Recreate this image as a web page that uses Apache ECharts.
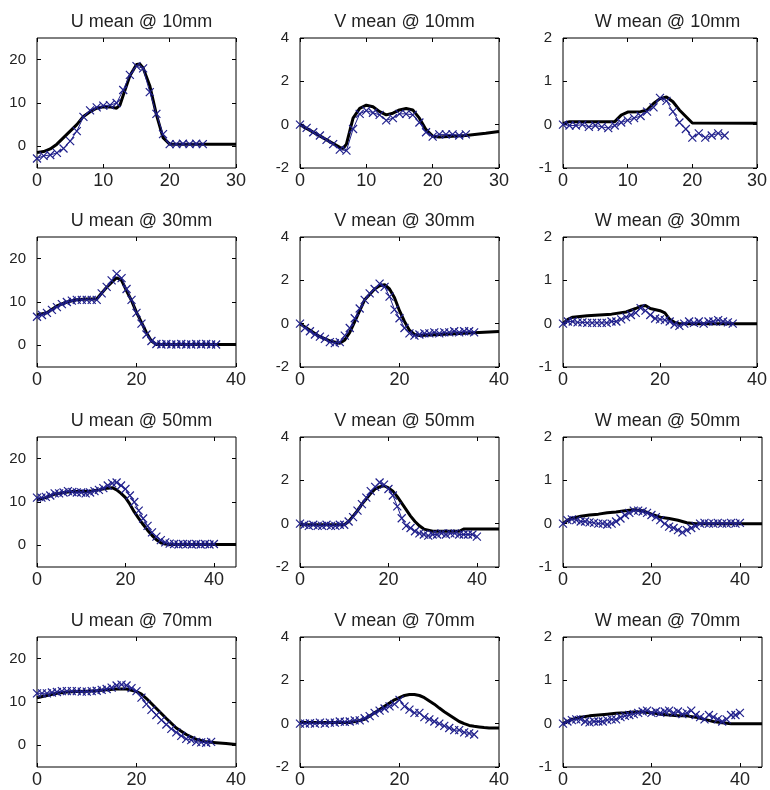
<!DOCTYPE html>
<html>
<head>
<meta charset="utf-8">
<script src="https://cdn.jsdelivr.net/npm/echarts@6/dist/echarts.min.js"></script>
<style>
  html, body { margin: 0; padding: 0; background: #fff; }
  #main { width: 770px; height: 790px; }
</style>
</head>
<body>
<div id="main"></div>
<script>
// titles and axis ranges, row by row (U, V, W)
var titles = ['U mean @ 10mm', 'V mean @ 10mm', 'W mean @ 10mm',
              'U mean @ 30mm', 'V mean @ 30mm', 'W mean @ 30mm',
              'U mean @ 50mm', 'V mean @ 50mm', 'W mean @ 50mm',
              'U mean @ 70mm', 'V mean @ 70mm', 'W mean @ 70mm'];
var xMax = [30, 30, 30, 40, 40, 40, 45, 45, 45, 40, 40, 45];
var xTicks10 = [0, 10, 20, 30];
var xTicks20 = [0, 20, 40];
var yMin = { U: -5, V: -2, W: -1 };
var yMax = { U: 25, V: 4, W: 2 };
var yTicks = { U: [0, 10, 20], V: [-2, 0, 2, 4], W: [-1, 0, 1, 2] };

// measured points (1 mm apart, starting at 0)
var expU10 = [-2.8,-2.2,-2,-1.5,-0.5,1.2,3.5,6.8,8.3,9,9.4,9.5,10,13,16.5,18.5,18,12.5,7.5,2.8,0.5,0.5,0.6,0.5,0.6,0.5];
var expV10 = [0,-0.15,-0.35,-0.5,-0.7,-0.9,-1.15,-1.2,-0.2,0.5,0.65,0.55,0.45,0.2,0.3,0.5,0.5,0.45,0.1,-0.35,-0.55,-0.45,-0.45,-0.45,-0.5,-0.45];
var expW10 = [0,-0.02,-0.02,0,-0.05,-0.02,-0.05,-0.08,-0.02,0.05,0.1,0.15,0.2,0.3,0.4,0.62,0.55,0.3,0.05,-0.1,-0.3,-0.2,-0.3,-0.25,-0.2,-0.25];
var expU30 = [6.6,7,7.5,8.2,8.8,9.5,10,10.3,10.5,10.5,10.5,10.5,10.5,12,13.5,15,16.5,15.5,13,10.5,7.5,5,2.5,1,0.3,0.2,0.3,0.2,0.2,0.3,0.2,0.2,0.3,0.2,0.3,0.2,0.2];
var expV30 = [0,-0.2,-0.35,-0.5,-0.6,-0.7,-0.85,-0.9,-0.85,-0.55,-0.2,0.25,0.7,1.1,1.4,1.6,1.85,1.7,1.25,0.65,0.25,-0.2,-0.45,-0.55,-0.5,-0.45,-0.45,-0.4,-0.45,-0.4,-0.4,-0.35,-0.4,-0.35,-0.35,-0.4];
var expW30 = [0,0.05,0.05,0.03,0.03,0.02,0.02,0.02,0.02,0.02,0.05,0.05,0.1,0.15,0.2,0.25,0.36,0.3,0.2,0.12,0.1,0.08,0.05,-0.02,-0.05,0,0.05,0.02,0.05,0,0.05,0.05,0.08,0.05,0.03,0];
var expU50 = [11,11,11.2,11.5,12,12,12.2,12.5,12.3,12.2,12.2,12,12.2,12.5,12.8,13.2,13.8,14.3,14.5,13.8,13,11.5,10,8,6.2,4.5,3,2,1.2,0.7,0.4,0.3,0.2,0.3,0.3,0.2,0.3,0.2,0.3,0.2,0.3];
var expV50 = [0,-0.05,-0.1,-0.05,-0.1,-0.1,-0.05,-0.1,-0.1,-0.05,-0.05,0.1,0.3,0.6,0.9,1.2,1.5,1.7,1.9,1.8,1.6,1.3,0.8,0.25,-0.1,-0.2,-0.35,-0.45,-0.5,-0.55,-0.5,-0.5,-0.45,-0.5,-0.45,-0.45,-0.5,-0.5,-0.5,-0.5,-0.6];
var expW50 = [0,0.08,0.1,0.08,0.05,0.05,0.03,0.02,0,0,-0.02,0,0.05,0.12,0.2,0.25,0.3,0.3,0.28,0.25,0.2,0.15,0.08,0,-0.07,-0.1,-0.15,-0.2,-0.15,-0.1,-0.05,0,0.02,0,0,0.02,0,0,0.02,0,0.02];
var expU70 = [12,12,12,12.2,12.3,12.5,12.5,12.5,12.5,12.4,12.4,12.5,12.6,12.8,13,13.3,13.8,14,13.8,13.2,12.5,11,9.5,8.2,7,5.8,4.8,3.8,3,2.2,1.5,1.2,0.8,0.7,0.6,0.8];
var expV70 = [0,0,0.02,0,0.05,0,0.05,0.05,0.1,0.08,0.1,0.15,0.15,0.25,0.35,0.5,0.6,0.7,0.8,0.9,1.1,0.8,0.65,0.5,0.5,0.3,0.2,0.1,0,-0.1,-0.2,-0.3,-0.3,-0.4,-0.45,-0.5];
var expW70 = [0,0.05,0.08,0.1,0.1,0.05,0.03,0.05,0.05,0.05,0.08,0.1,0.1,0.15,0.18,0.2,0.22,0.25,0.28,0.3,0.25,0.28,0.25,0.28,0.3,0.25,0.28,0.22,0.25,0.3,0.2,0.15,0.1,0.2,0.15,0.1,0.05,0.1,0.2,0.2,0.25];

// model curves as [x, y]
var modelU10 = [[0,-1.4],[1,-1.2],[2,-0.6],[3,0.5],[4,2],[5,3.5],[6,5],[7,6.9],[8,8],[9,8.8],[10,9.1],[11,9.1],[12,8.8],[12.5,9.5],[13,11.8],[14,16.3],[15,18.9],[15.5,19],[16,18.1],[17,14],[18,7.3],[19,2],[20,0.5],[21,0.5],[30,0.5]];
var modelV10 = [[0,0],[6,-1.05],[6.5,-1.1],[7,-0.9],[7.5,-0.3],[8,0.3],[9,0.75],[10,0.9],[11,0.83],[12,0.6],[13,0.45],[14,0.53],[15,0.68],[16,0.75],[17,0.68],[18,0.3],[19,-0.23],[20,-0.53],[21,-0.57],[25,-0.5],[28,-0.4],[30,-0.32]];
var modelW10 = [[0,0.03],[1,0.07],[8,0.07],[9,0.22],[10,0.29],[12,0.3],[13,0.34],[14,0.49],[15,0.6],[16,0.64],[17,0.53],[18,0.34],[19,0.19],[20,0.04],[30,0.03]];
var modelU30 = [[0,7],[2,7.5],[4,9.1],[6,10],[8,10.5],[10,10.7],[12,10.7],[14,13.4],[16,15.6],[17,15],[18,12.6],[19,10.3],[20,7.6],[21,5.3],[22,2.9],[23,1],[24,0.2],[40,0.2]];
var modelV30 = [[0,0],[2,-0.3],[4,-0.6],[6,-0.8],[8,-0.9],[9,-0.75],[10,-0.4],[11,0.1],[12,0.6],[13,1.1],[14,1.35],[15,1.6],[16,1.75],[17,1.8],[18,1.6],[19,1.2],[20,0.6],[21,0.1],[22,-0.3],[23,-0.5],[24,-0.55],[30,-0.48],[40,-0.36]];
var modelW30 = [[0,0],[1,0.1],[2,0.15],[5,0.18],[10,0.22],[13,0.27],[15,0.35],[16,0.4],[17,0.42],[18,0.35],[20,0.3],[21,0.25],[22,0.1],[23,0.03],[24,0],[40,0]];
var modelU50 = [[0,10.5],[2,11],[4,11.8],[6,12.2],[8,12.4],[10,12.4],[12,12.5],[14,12.8],[16,13.2],[17,13.3],[18,12.8],[19,12],[20,11],[21,9.5],[22,7.7],[23,6.2],[24,4.8],[25,3.5],[26,2.3],[27,1.3],[28,0.6],[29,0.3],[30,0.2],[45,0.2]];
var modelV50 = [[0,-0.05],[10,-0.05],[11,0.1],[12,0.35],[13,0.6],[14,0.9],[15,1.15],[16,1.4],[17,1.6],[18,1.7],[19,1.75],[20,1.65],[21,1.5],[22,1.25],[23,0.95],[24,0.65],[25,0.35],[26,0.1],[27,-0.1],[28,-0.25],[29,-0.3],[30,-0.35],[36,-0.35],[37,-0.25],[45,-0.25]];
var modelW50 = [[0,0],[1,0.08],[2,0.12],[4,0.17],[6,0.2],[8,0.22],[10,0.25],[12,0.27],[14,0.3],[16,0.32],[18,0.3],[20,0.22],[22,0.15],[24,0.12],[26,0.08],[28,0.02],[30,0],[45,0]];
var modelU70 = [[0,11],[2,11.5],[4,12],[6,12.3],[8,12.4],[10,12.5],[12,12.6],[14,12.8],[16,13],[18,13],[20,12.4],[21,11.8],[22,10.8],[24,8.5],[26,6.2],[28,4],[30,2.5],[32,1.4],[34,0.8],[36,0.6],[38,0.4],[40,0.2]];
var modelV70 = [[0,0.05],[10,0.05],[11,0.1],[12,0.15],[13,0.2],[14,0.35],[15,0.5],[16,0.65],[17,0.8],[18,0.95],[19,1.1],[20,1.2],[21,1.3],[22,1.35],[23,1.35],[24,1.3],[25,1.2],[26,1.05],[27,0.9],[28,0.72],[29,0.55],[30,0.4],[31,0.25],[32,0.1],[33,0],[34,-0.08],[35,-0.12],[36,-0.15],[37,-0.18],[38,-0.2],[40,-0.2]];
var modelW70 = [[0,0],[2,0.1],[4,0.15],[6,0.18],[8,0.2],[10,0.22],[12,0.24],[14,0.25],[16,0.27],[18,0.27],[20,0.25],[22,0.22],[24,0.2],[26,0.18],[28,0.18],[30,0.15],[32,0.1],[34,0.05],[36,0.02],[38,0],[45,0]];

var exps = [expU10, expV10, expW10, expU30, expV30, expW30, expU50, expV50, expW50, expU70, expV70, expW70];
var models = [modelU10, modelV10, modelW10, modelU30, modelV30, modelW30, modelU50, modelV50, modelW50, modelU70, modelV70, modelW70];

var colLeft = [37, 300, 563];
var rowTop = [38, 237, 437, 637];
var cellW = 199, cellH = 130;
var font = 'Liberation Sans, Arial, sans-serif';
var cross = 'path://M0,0L10,10M10,0L0,10';
var blue = '#20208c';
var tick = { inside: true, length: 4, lineStyle: { color: '#000' } };

var myChart = echarts.init(document.getElementById('main'));

var grids = [], xAxes = [], yAxes = [], series = [], title = [];
var xTop = [], yRight = [];

for (var i = 0; i < 12; i++) {
    var r = Math.floor(i / 3), c = i % 3;
    var comp = titles[i].charAt(0);
    var xt = r === 0 ? xTicks10 : xTicks20;
    grids.push({
        left: colLeft[c], top: rowTop[r], width: cellW, height: cellH,
        show: true, borderColor: '#000', borderWidth: 1, backgroundColor: '#fff'
    });
    title.push({
        text: titles[i],
        left: colLeft[c] + cellW / 2, top: rowTop[r] - 30, textAlign: 'center',
        textStyle: { fontFamily: font, fontSize: 18, fontWeight: 'normal', color: '#222' }
    });
    xAxes.push({
        type: 'value', gridIndex: i, min: 0, max: xMax[i],
        axisLine: { show: false, onZero: false },
        axisTick: Object.assign({ customValues: xt }, tick),
        splitLine: { show: false },
        axisLabel: { customValues: xt, fontFamily: font, fontSize: 18, color: '#222', margin: 4 }
    });
    yAxes.push({
        type: 'value', gridIndex: i, min: yMin[comp], max: yMax[comp],
        axisLine: { show: false, onZero: false },
        axisTick: Object.assign({ customValues: yTicks[comp] }, tick),
        splitLine: { show: false },
        axisLabel: { customValues: yTicks[comp], fontFamily: font, fontSize: 15, color: '#222', margin: 11 }
    });
    // mirrored ticks on top and right, like a boxed plot
    xTop.push({
        type: 'value', gridIndex: i, position: 'top', min: 0, max: xMax[i],
        axisLine: { show: false, onZero: false }, splitLine: { show: false }, axisLabel: { show: false },
        axisTick: Object.assign({ customValues: xt }, tick)
    });
    yRight.push({
        type: 'value', gridIndex: i, position: 'right', min: yMin[comp], max: yMax[comp],
        axisLine: { show: false, onZero: false }, splitLine: { show: false }, axisLabel: { show: false },
        axisTick: Object.assign({ customValues: yTicks[comp] }, tick)
    });

    series.push({
        type: 'line', xAxisIndex: i, yAxisIndex: i,
        data: models[i], showSymbol: false, silent: true,
        lineStyle: { color: '#000', width: 3 }
    });
    var pts = [];
    for (var k = 0; k < exps[i].length; k++) pts.push([k, exps[i][k]]);
    series.push({
        type: 'line', xAxisIndex: i, yAxisIndex: i,
        data: pts, symbol: cross, symbolSize: 8, showAllSymbol: true, silent: true,
        lineStyle: { color: blue, width: 1 },
        itemStyle: { color: 'rgba(0,0,0,0)', borderColor: blue, borderWidth: 1.2 }
    });
}

option = {
    backgroundColor: '#fff',
    animation: false,
    title: title,
    grid: grids,
    xAxis: xAxes.concat(xTop),
    yAxis: yAxes.concat(yRight),
    series: series
};
myChart.setOption(option);
</script>
</body>
</html>
